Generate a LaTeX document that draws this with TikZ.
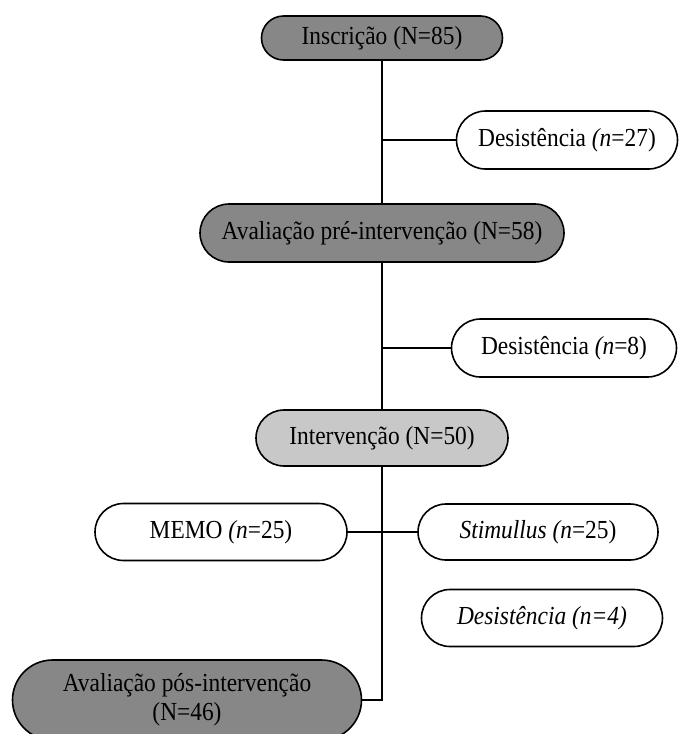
\documentclass[tikz,border=0pt]{standalone}
\usepackage{fontspec}
\setmainfont{Liberation Serif}[FakeStretch=0.9]
\usetikzlibrary{shapes.misc}
\definecolor{darkbox}{RGB}{135,135,135}
\definecolor{lightbox}{RGB}{200,200,200}

\begin{document}
\begin{tikzpicture}[x=1pt, y=1pt, line width=1.6pt,
    box/.style={rounded rectangle, draw, line width=1.6pt, inner sep=0pt,
        align=center, font=\fontsize{26}{29}\selectfont},
    darkfill/.style={box, fill=darkbox},
    lightfill/.style={box, fill=lightbox},
    whitefill/.style={box, fill=white}]
\useasboundingbox (0,0) rectangle (680,-734);
% Nodes
\node[darkfill, minimum width=241, minimum height=44] (inscricao) at (382,-38) {Inscrição (N=85)};
\node[whitefill, minimum width=221, minimum height=58] (desist1) at (567,-140) {Desistência \textit{(n}=27)};
\node[darkfill, minimum width=364, minimum height=58] (avalpre) at (382,-233) {Avaliação pré-intervenção (N=58)};
\node[whitefill, minimum width=225, minimum height=58] (desist2) at (564,-348) {Desistência \textit{(n}=8)};
\node[lightfill, minimum width=252, minimum height=56] (interv) at (382,-438) {Intervenção (N=50)};
\node[whitefill, minimum width=252, minimum height=57] (memo) at (221,-532) {MEMO \textit{(n}=25)};
\node[whitefill, minimum width=240, minimum height=56] (stim) at (538,-532) {\textit{Stimullus (n}=25)};
\node[whitefill, minimum width=241, minimum height=57] (desist3) at (542,-618) {\textit{Desistência (n=4)}};
\node[darkfill, minimum width=349, minimum height=80] (avalpos) at (187,-700) {Avaliação pós-intervenção\\(N=46)};
% Edges
\draw[-] (inscricao) -- (avalpre);
\draw[-] (desist1.west) -- (desist1.west -| inscricao.south);
\draw[-] (avalpre) -- (interv);
\draw[-] (desist2.west) -- (desist2.west -| avalpre.south);
\draw[-] (memo.east) -- (stim.west);
\draw[-] (interv.south) |- (avalpos.east);
\end{tikzpicture}
\end{document}
